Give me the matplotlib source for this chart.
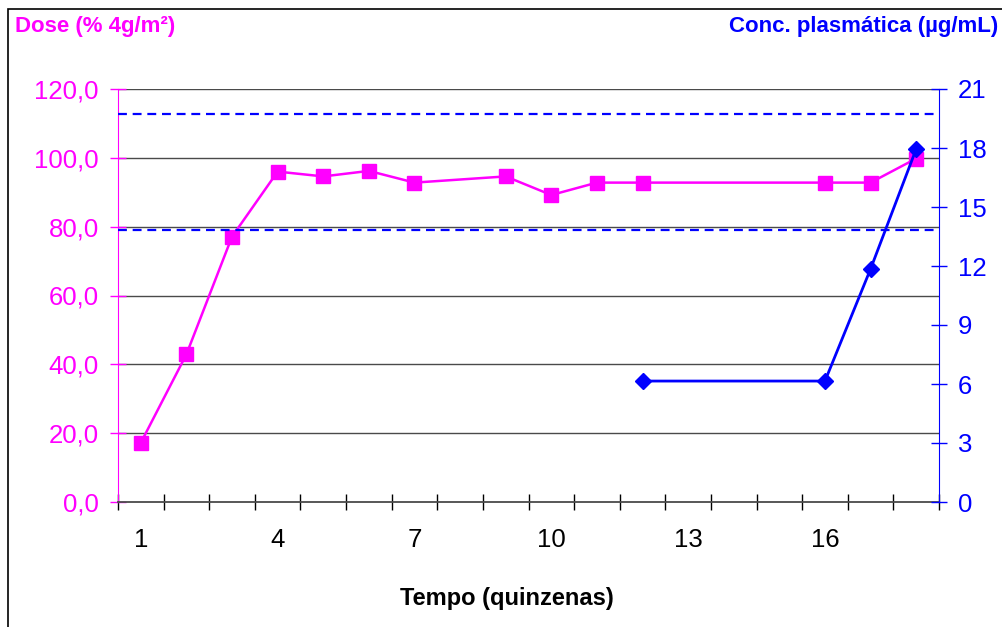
import numpy as np
import matplotlib
matplotlib.use("Agg")
import matplotlib.pyplot as plt
from matplotlib.patches import Rectangle

plt.rcParams['font.family'] = ['Liberation Sans', 'DejaVu Sans']

# data
dose_x = [1, 2, 3, 4, 5, 6, 7, 9, 10, 11, 12, 16, 17, 18]
dose_y = [17.2, 42.9, 77.1, 96.0, 94.6, 96.2, 92.8, 94.6, 89.2, 92.8, 92.8, 92.8, 92.8, 99.8]
conc_x = [12, 16, 17, 18]
conc_y = [6.15, 6.15, 11.85, 17.95]
ref_lines = [19.75, 13.85]          # dashed reference levels (right axis)
left_ticks = [0, 20, 40, 60, 80, 100, 120]
right_ticks = [0, 3, 6, 9, 12, 15, 18, 21]
x_labels = [1, 4, 7, 10, 13, 16]
n_cat = 18

MAG = '#FF00FF'
BLUE = '#0000FF'
GRID = '#4a4a4a'

fig = plt.figure(figsize=(10.02, 6.27), dpi=100)
ax = fig.add_axes([118/1002, 1-502/627, (939-118)/1002, (502-89)/627])
ax2 = ax.twinx()

# outer chart border
fig.patches.append(Rectangle((8/1002, -0.1), 1.2, 1.1 - 9/627, transform=fig.transFigure,
                             fill=False, edgecolor='black', linewidth=1.2))

ax.set_xlim(0.5, n_cat + 0.5)
ax.set_ylim(0, 120)
ax2.set_ylim(0, 21)

for y in left_ticks[1:]:
    ax.axhline(y, color=GRID, linewidth=1.0, zorder=1)

ax.plot(dose_x, dose_y, color=MAG, linewidth=1.8, marker='s', markersize=9.5,
        markerfacecolor=MAG, markeredgecolor=MAG, zorder=3, clip_on=False)

for y in ref_lines:
    ax2.axhline(y, color=BLUE, linewidth=1.6, linestyle=(0, (4, 2.6)), zorder=2)
ax2.plot(conc_x, conc_y, color=BLUE, linewidth=2.0, marker='D', markersize=8,
         markerfacecolor=BLUE, markeredgecolor=BLUE, zorder=4, clip_on=False)

# spines
for a in (ax, ax2):
    a.spines['top'].set_visible(False)
    a.patch.set_visible(False)
ax2.spines['left'].set_visible(False)
ax2.spines['bottom'].set_visible(False)
ax.spines['right'].set_visible(False)
ax.spines['left'].set_color(MAG)
ax.spines['bottom'].set_color(GRID)
ax.spines['bottom'].set_linewidth(1.3)
ax2.spines['right'].set_color(BLUE)

# left axis ticks
ax.set_yticks(left_ticks)
ax.set_yticklabels([f"{v:.1f}".replace('.', ',') for v in left_ticks])
ax.tick_params(axis='y', direction='inout', length=11.5, width=1, color=MAG,
               labelcolor=MAG, labelsize=18.5, pad=8)

# right axis ticks
ax2.set_yticks(right_ticks)
ax2.set_yticklabels([str(v) for v in right_ticks])
ax2.tick_params(axis='y', direction='inout', length=11, width=1, color=BLUE,
                labelcolor=BLUE, labelsize=18.5, pad=8)

# x ticks at category boundaries, labels at centres
ax.set_xticks(np.arange(0.5, n_cat + 1, 1.0))
ax.set_xticklabels([])
ax.tick_params(axis='x', which='major', direction='inout', length=11.5, width=1, color='black')
ax.set_xticks(x_labels, minor=True)
ax.set_xticklabels([str(v) for v in x_labels], minor=True)
ax.tick_params(axis='x', which='minor', length=0, labelsize=18.5, pad=19, labelcolor='black')

fig.text(15/1002, 1-32/627, "Dose (% 4g/m²)", color=MAG, fontsize=16,
         fontweight='bold', ha='left', va='baseline')
fig.text(998/1002, 1-32/627, "Conc. plasmática (µg/mL)", color=BLUE, fontsize=16,
         fontweight='bold', ha='right', va='baseline')
fig.text(507/1002, 1-605/627, "Tempo (quinzenas)", color='black', fontsize=17,
         fontweight='bold', ha='center', va='baseline')

fig.savefig("out.png", dpi=100, facecolor='white')
